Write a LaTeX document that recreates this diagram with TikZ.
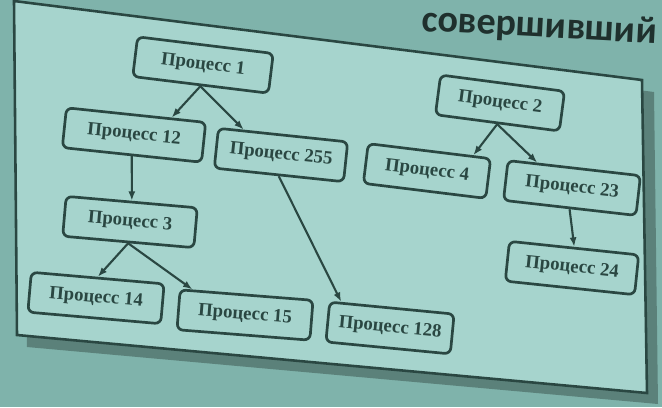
\documentclass[tikz,border=0pt]{standalone}
\usepackage{fontspec}
\setmainfont{Liberation Serif}
\newfontfamily\slidefont{Carlito}
\usetikzlibrary{arrows.meta,calc}
\definecolor{outerbg}{HTML}{7FB3AB}
\definecolor{innerbg}{HTML}{A6D4CD}
\definecolor{ink}{HTML}{2A4742}
\definecolor{framesh}{HTML}{5B817A}
\definecolor{titleink}{HTML}{1F302D}
\begin{document}
\begin{tikzpicture}[x=0.03cm,y=-0.03cm,
  proc/.style={draw=ink, line width=2.3pt, rounded corners=5pt, minimum height=1.2cm,
    text=ink, font=\bfseries\fontsize{16}{18}\selectfont, inner sep=0pt},
  arr/.style={draw=ink, line width=1.8pt, -{Latex[length=8pt,width=6pt]}}]
\useasboundingbox (0,0) rectangle (662,407);
\clip (0,0) rectangle (662,407);
\fill[outerbg] (0,0) rectangle (662,407);
% frame shadow and frame
\fill[framesh] (24,12) -- (654,92) -- (658,404) -- (27,347) -- cycle;
\filldraw[fill=innerbg, draw=ink, line width=2.2pt] (14,1) -- (642,80) -- (647,393) -- (17,335) -- cycle;
% slide title fragment
\node[anchor=base west, rotate=-3, text=titleink, font=\slidefont\bfseries\fontsize{32.5}{35}\selectfont, inner sep=0pt] (title) at (421,31) {совершивший};
% processes
\node[proc, rotate=-7, minimum width=4.1cm] (p1) at (203,65) {Процесс 1};
\node[proc, rotate=-6, minimum width=4.2cm] (p12) at (134,135) {Процесс 12};
\node[proc, rotate=-6, minimum width=3.9cm] (p255) at (281,155) {Процесс 255};
\node[proc, rotate=-5, minimum width=3.95cm] (p3) at (130,222) {Процесс 3};
\node[proc, rotate=-5, minimum width=4.0cm] (p14) at (96,298) {Процесс 14};
\node[proc, rotate=-4.5, minimum width=4.0cm] (p15) at (245,315) {Процесс 15};
\node[proc, rotate=-5.5, minimum width=3.75cm] (p128) at (390,328) {Процесс 128};
\node[proc, rotate=-7.5, minimum width=3.75cm] (p2) at (500,103) {Процесс 2};
\node[proc, rotate=-7, minimum width=3.7cm] (p4) at (427,171) {Процесс 4};
\node[proc, rotate=-6.5, minimum width=4.0cm] (p23) at (572,188) {Процесс 23};
\node[proc, rotate=-6, minimum width=3.9cm] (p24) at (572,268) {Процесс 24};
% connectors
\draw[arr] (p1.south) -- ($(p12.north)!0.5!(p12.north east)$);
\draw[arr] (p1.south) -- ($(p255.north)!0.6!(p255.north west)$);
\draw[arr] (p12.south) -- (p3.north);
\draw[arr] (p3.south) -- (p14.north);
\draw[arr] (p3.south) -- ($(p15.north)!0.8!(p15.north west)$);
\draw[arr] (p255.south) -- ($(p128.north)!0.8!(p128.north west)$);
\draw[arr] (p2.south) -- ($(p4.north)!0.7!(p4.north east)$);
\draw[arr] (p2.south) -- ($(p23.north)!0.55!(p23.north west)$);
\draw[arr] (p23.south) -- (p24.north);
\end{tikzpicture}
\end{document}
